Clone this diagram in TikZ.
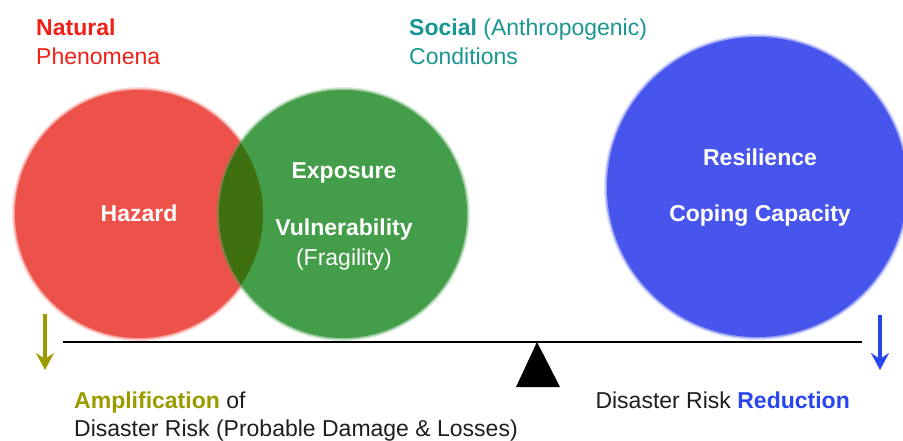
\documentclass[tikz,border=0pt]{standalone}
\usepackage{fontspec}
\setmainfont{Liberation Sans}
\usetikzlibrary{arrows.meta}
\definecolor{hazred}{RGB}{236,82,74}
\definecolor{expgreen}{RGB}{67,157,73}
\definecolor{lensgreen}{RGB}{62,112,16}
\definecolor{resblue}{RGB}{72,85,236}
\definecolor{natred}{RGB}{240,32,24}
\definecolor{socteal}{RGB}{25,150,145}
\definecolor{ampolive}{RGB}{155,155,0}
\definecolor{redblue}{RGB}{40,70,240}
\definecolor{txtgray}{RGB}{30,30,30}
\begin{document}
\begin{tikzpicture}[x=1pt,y=-1pt,
  lbl/.style={font=\fontsize{23}{23}\selectfont, inner sep=0pt},
  inlbl/.style={lbl, text=white, font=\fontsize{23}{23}\selectfont\bfseries},
  downarrow/.style={line width=4pt, -{Stealth[length=17pt,width=18pt,inset=6pt]}}]
\useasboundingbox (0,0) rectangle (903,440);
% circles with soft edges
\foreach \d/\o in {3/0.2,1.5/0.45}{
  \fill[hazred,opacity=\o] (139,214) circle[radius=124+\d];}
\fill[hazred] (139,214) circle[radius=124];
\foreach \d/\o in {3/0.2,1.5/0.45}{
  \fill[expgreen,opacity=\o] (343,214) circle[radius=124+\d];}
\fill[expgreen] (343,214) circle[radius=124];
\begin{scope}
  \clip (139,214) circle[radius=124];
  \fill[lensgreen] (343,214) circle[radius=124];
\end{scope}
\foreach \d/\o in {3/0.2,1.5/0.45}{
  \fill[resblue,opacity=\o] (757,187) circle[radius=150+\d];}
\fill[resblue] (757,187) circle[radius=150];
% labels in circles
\node[inlbl, anchor=base] (hazard) at (139,221) {Hazard};
\node[inlbl, anchor=base] (exposure) at (344,178) {Exposure};
\node[inlbl, anchor=base] (vuln) at (344,235) {Vulnerability};
\node[lbl, text=white, anchor=base] (frag) at (344,265) {(Fragility)};
\node[inlbl, anchor=base] (resil) at (760,165) {Resilience};
\node[inlbl, anchor=base] (coping) at (760,221) {Coping Capacity};
% top labels
\node[lbl, anchor=base west, text=natred] (natural) at (36,35) {\bfseries Natural};
\node[lbl, anchor=base west, text=natred] (phen) at (36,64) {Phenomena};
\node[lbl, anchor=base west, text=socteal] (social) at (409,35) {\bfseries Social\mdseries\ (Anthropogenic)};
\node[lbl, anchor=base west, text=socteal] (cond) at (409,64) {Conditions};
% balance
\coordinate (bl) at (63,342);
\coordinate (br) at (862,342);
\draw[line width=2.6pt, black] (bl) -- (br);
\coordinate (apex) at (537,342);
\coordinate (tl) at (516,387);
\coordinate (tr) at (560,387);
\fill[black] (apex) -- (tl) -- (tr) -- cycle;
% arrows
\coordinate (la1) at (45,314);
\coordinate (la2) at (45,370);
\draw[downarrow, ampolive] (la1) -- (la2);
\coordinate (ra1) at (880,315);
\coordinate (ra2) at (880,370);
\draw[downarrow, redblue] (ra1) -- (ra2);
% bottom labels
\node[lbl, anchor=base west, text=txtgray] (ampl) at (74,408) {\textcolor{ampolive}{\bfseries Amplification} of};
\node[lbl, anchor=base west, text=txtgray] (drisk) at (74,436) {Disaster Risk (Probable Damage \& Losses)};
\node[lbl, anchor=base east, text=txtgray] (drr) at (850,408) {Disaster Risk \textcolor{redblue}{\bfseries Reduction}};
\end{tikzpicture}
\end{document}
